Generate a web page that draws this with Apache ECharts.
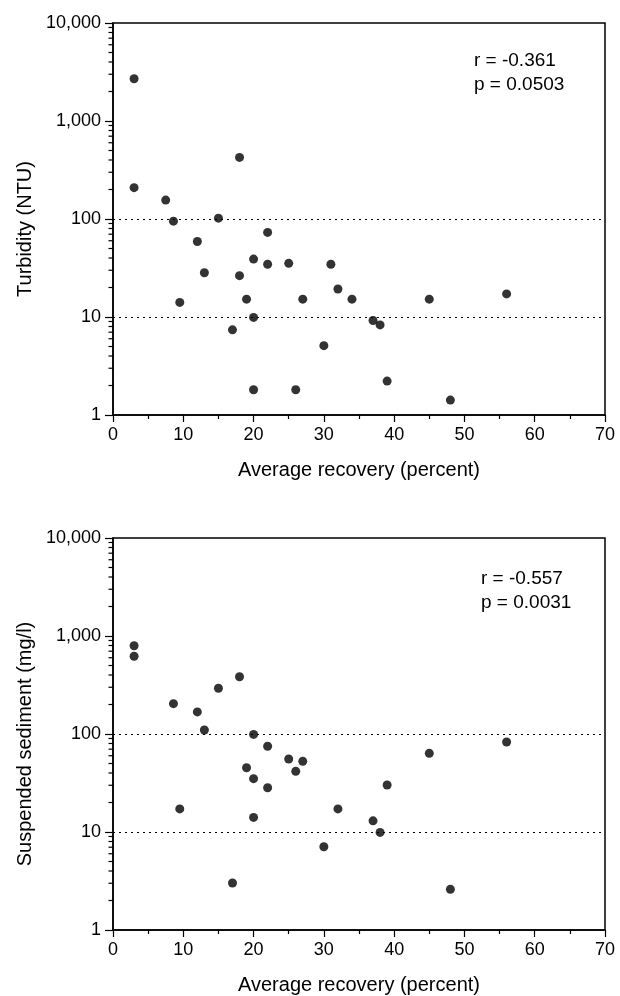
<!DOCTYPE html>
<html>
<head>
<meta charset="utf-8">
<script src="https://cdn.jsdelivr.net/npm/echarts@6/dist/echarts.min.js"></script>
<style>
  html, body { margin: 0; padding: 0; background: #fff; }
  #chart { width: 620px; height: 996px; }
</style>
</head>
<body>
<div id="chart"></div>
<script>
// Top panel: Turbidity (NTU) vs average recovery (percent)
const turbRecovery = [3, 3, 7.5, 8.6, 15, 18, 22, 12, 13, 20, 22, 25, 31, 18, 32, 9.5, 19, 27, 34, 20, 17, 30, 20, 26, 45, 56, 37, 38, 39, 48];
const turbValues   = [2700, 209, 156, 95, 102, 425, 73, 59, 28.3, 39, 34.5, 35.3, 34.5, 26.4, 19.3, 14.1, 15.2, 15.2, 15.2, 9.9, 7.4, 5.1, 1.81, 1.81, 15.2, 17.2, 9.2, 8.3, 2.22, 1.42];

// Bottom panel: Suspended sediment (mg/l) vs average recovery (percent)
const sedRecovery = [3, 3, 8.6, 12, 13, 15, 18, 20, 22, 25, 27, 26, 19, 20, 22, 9.5, 32, 20, 30, 17, 37, 38, 39, 45, 56, 48];
const sedValues   = [796, 621, 204, 168, 110, 293, 384, 99, 75, 55.6, 52.6, 41.6, 45.3, 35, 28.3, 17.2, 17.2, 14.1, 7.08, 3.02, 13, 9.9, 30.2, 63.5, 82.8, 2.6];

const yTickValues = [1, 10, 100, 1000, 10000];
const yMinorTicks = [2,3,4,5,6,7,8,9, 20,30,40,50,60,70,80,90, 200,300,400,500,600,700,800,900, 2000,3000,4000,5000,6000,7000,8000,9000];
const refLines = [100, 10];
const xTickLabels = [0, 10, 20, 30, 40, 50, 60, 70];

const statsTop = ['r = -0.361', 'p = 0.0503'];
const statsBottom = ['r = -0.557', 'p = 0.0031'];
const yTitles = ['Turbidity (NTU)', 'Suspended sediment (mg/l)'];
const xTitle = 'Average recovery (percent)';

const FONT = '"Liberation Sans", Arial, Helvetica, sans-serif';

function pair(xs, ys) { return xs.map((x, i) => [x, ys[i]]); }

function xAxisCfg(gi) {
  return {
    gridIndex: gi, type: 'value', min: 0, max: 70, interval: 10,
    name: xTitle, nameLocation: 'middle', nameGap: 45,
    nameTextStyle: { fontFamily: FONT, fontSize: 20, color: '#000' },
    axisLine: { show: true, lineStyle: { color: '#000', width: 1.5 } },
    axisTick: { show: true, length: 7, lineStyle: { color: '#000', width: 1.2 } },
    minorTick: { show: true, splitNumber: 2, length: 4, lineStyle: { color: '#000', width: 1.2 } },
    axisLabel: { fontFamily: FONT, fontSize: 18, color: '#000', margin: 11,
      formatter: v => xTickLabels.includes(v) ? String(v) : '' },
    splitLine: { show: false }
  };
}
function yAxisCfg(gi) {
  return {
    gridIndex: gi, type: 'log', logBase: 10, min: 1, max: 10000,
    name: yTitles[gi], nameLocation: 'middle', nameGap: 77, nameRotate: 90,
    nameTextStyle: { fontFamily: FONT, fontSize: 20, color: '#000', padding: [0, 20, 0, 0] },
    axisLine: { show: true, lineStyle: { color: '#000', width: 1.5 } },
    axisTick: { show: true, length: 8, lineStyle: { color: '#000', width: 1.2 } },
    axisLabel: { fontFamily: FONT, fontSize: 18, color: '#000', margin: 12,
      formatter: v => yTickValues.includes(Number(v)) ? Number(v).toLocaleString('en-US') : '' },
    splitLine: { show: false }
  };
}

function scatterSeries(gi, data) {
  return {
    type: 'scatter', xAxisIndex: gi, yAxisIndex: gi,
    data: data, symbol: 'circle', symbolSize: 9,
    itemStyle: { color: '#000' },
    markLine: {
      silent: true, symbol: 'none', animation: false,
      label: { show: false },
      lineStyle: { type: [2, 4], color: '#000', width: 1.2 },
      data: refLines.map(v => ({ yAxis: v }))
    },
    z: 5
  };
}
function minorTickSeries(gi) {
  return {
    type: 'custom', xAxisIndex: gi, yAxisIndex: gi, silent: true, clip: false,
    data: yMinorTicks.map(v => [0, v]),
    renderItem: (params, api) => {
      const p = api.coord([api.value(0), api.value(1)]);
      return { type: 'line', shape: { x1: p[0] - 4.5, y1: p[1], x2: p[0], y2: p[1] },
        style: { stroke: '#000', lineWidth: 1.2 } };
    }
  };
}

const chart = echarts.init(document.getElementById('chart'), null, { renderer: 'canvas' });
chart.setOption({
  animation: false,
  backgroundColor: '#fff',
  grid: [
    { left: 113, top: 23, width: 492, height: 392, show: true, borderColor: '#000', borderWidth: 1.5, backgroundColor: 'transparent' },
    { left: 113, top: 538, width: 492, height: 392, show: true, borderColor: '#000', borderWidth: 1.5, backgroundColor: 'transparent' }
  ],
  xAxis: [xAxisCfg(0), xAxisCfg(1)],
  yAxis: [yAxisCfg(0), yAxisCfg(1)],
  graphic: [
    { type: 'text', left: 474, top: 49, style: { text: statsTop.join('\n'), font: '19px ' + FONT, fill: '#000', lineHeight: 24 } },
    { type: 'text', left: 481, top: 567, style: { text: statsBottom.join('\n'), font: '19px ' + FONT, fill: '#000', lineHeight: 24 } }
  ],
  series: [
    scatterSeries(0, pair(turbRecovery, turbValues)),
    scatterSeries(1, pair(sedRecovery, sedValues)),
    minorTickSeries(0),
    minorTickSeries(1)
  ]
});
</script>
</body>
</html>
